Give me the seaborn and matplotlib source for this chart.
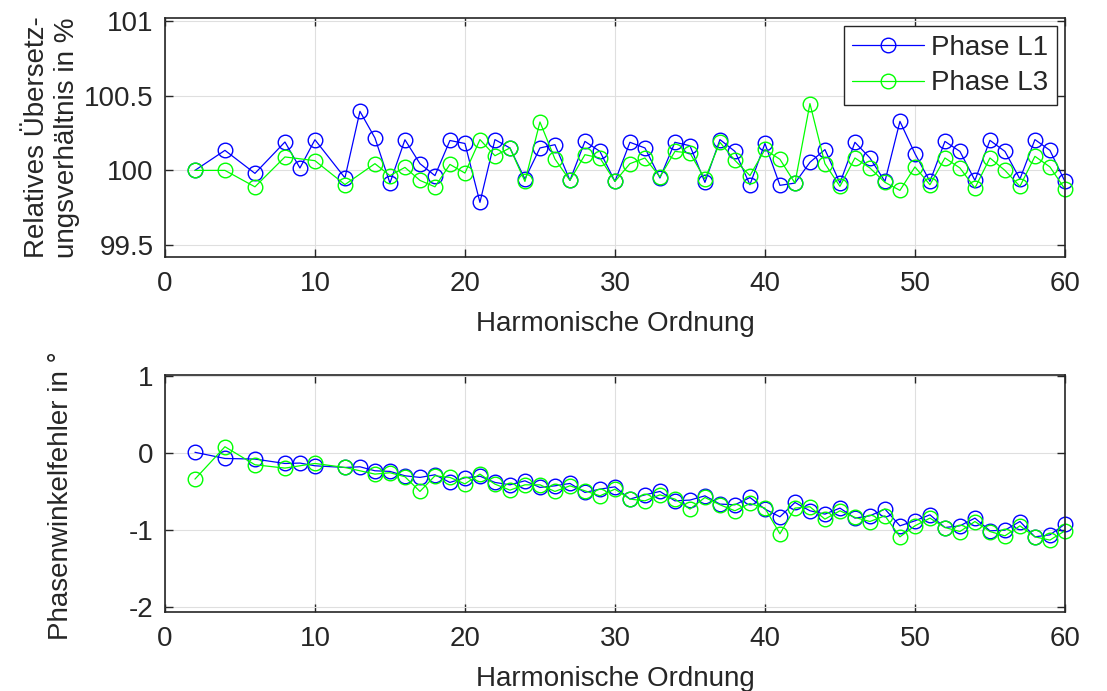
import numpy as np
import pandas as pd
import matplotlib
matplotlib.use("Agg")
import matplotlib.pyplot as plt
import matplotlib.ticker as mticker
import seaborn as sns


# harmonic orders for the two phases (L3 has no 9th and 13th)
order_l1 = [2, 4, 6, 8, 9, 10] + list(range(12, 61))
order_l3 = [2, 4, 6, 8, 10, 12] + list(range(14, 61))

ratio_l1 = [100.0, 100.134, 99.98, 100.19, 100.016, 100.205,
            99.95, 100.395, 100.217, 99.915, 100.205, 100.045, 99.965, 100.2, 100.18,
            99.786, 100.206, 100.15, 99.942, 100.15, 100.172, 99.933, 100.194, 100.127,
            99.926, 100.188, 100.15, 99.949, 100.188, 100.165, 99.92, 100.206, 100.127,
            99.904, 100.18, 99.9, 99.915, 100.054, 100.139, 99.915, 100.188, 100.083,
            99.926, 100.328, 100.112, 99.926, 100.194, 100.127, 99.933, 100.201, 100.127,
            99.942, 100.206, 100.134, 99.926]
ratio_l3 = [100.0, 100.0, 99.89, 100.09, 100.065, 99.905,
            100.045, 99.965, 100.02, 99.933, 99.89, 100.04, 99.982, 100.206, 100.098,
            100.15, 99.926, 100.324, 100.076, 99.933, 100.105, 100.083, 99.926, 100.045,
            100.083, 99.956, 100.127, 100.116, 99.942, 100.188, 100.067, 99.965, 100.14,
            100.074, 99.915, 100.447, 100.045, 99.893, 100.083, 100.016, 99.92, 99.866,
            100.023, 99.904, 100.083, 100.016, 99.882, 100.083, 100.0, 99.893, 100.094,
            100.023, 99.875]

phase_l1 = [0.01, -0.07, -0.078, -0.135, -0.13, -0.165,
            -0.187, -0.178, -0.23, -0.238, -0.295, -0.316, -0.282, -0.381, -0.32,
            -0.3, -0.381, -0.412, -0.36, -0.446, -0.425, -0.394, -0.511, -0.468,
            -0.438, -0.597, -0.542, -0.498, -0.62, -0.61, -0.555, -0.662, -0.671,
            -0.576, -0.727, -0.827, -0.641, -0.749, -0.792, -0.714, -0.844, -0.814,
            -0.727, -0.944, -0.879, -0.801, -0.966, -0.944, -0.844, -1.009, -1.0,
            -0.888, -1.087, -1.061, -0.922]
phase_l3 = [-0.338, 0.082, -0.152, -0.195, -0.135, -0.187,
            -0.273, -0.255, -0.307, -0.498, -0.295, -0.316, -0.4, -0.273, -0.403,
            -0.481, -0.412, -0.412, -0.498, -0.425, -0.49, -0.555, -0.468, -0.597,
            -0.62, -0.542, -0.597, -0.727, -0.576, -0.671, -0.749, -0.654, -0.714,
            -1.048, -0.714, -0.697, -0.857, -0.749, -0.835, -0.888, -0.814, -1.087,
            -0.944, -0.844, -0.966, -1.018, -0.888, -1.018, -1.074, -0.944, -1.087,
            -1.129, -1.009]

labels = ['Phase L1', 'Phase L3']
colors = ['#0000FF', '#00FF00']

sns.set_style('ticks')
plt.rcParams['font.family'] = ['Liberation Sans', 'DejaVu Sans']
plt.rcParams['axes.unicode_minus'] = False

dark = '#262626'
fs = 20


def style_axes(ax, ylim, yticks):
    ax.set_xlim(0, 60)
    ax.set_xticks([0, 10, 20, 30, 40, 50, 60])
    ax.set_ylim(*ylim)
    ax.set_yticks(yticks)
    ax.yaxis.set_major_formatter(mticker.FuncFormatter(lambda v, p: '%g' % v))
    ax.grid(True, color='#DFDFDF', linewidth=0.8)
    ax.set_axisbelow(True)
    ax.tick_params(direction='in', top=True, right=True, length=6, width=1,
                   labelsize=fs, colors=dark)
    ax.tick_params(axis='x', pad=10)
    ax.tick_params(axis='y', pad=8)
    for sp in ax.spines.values():
        sp.set_color(dark)
        sp.set_linewidth(1.2)
        sp.set_visible(True)
    ax.set_xlabel('Harmonische Ordnung', fontsize=fs, color=dark, labelpad=10)


def draw(ax, xs, ys):
    for x, y, label, color in zip(xs, ys, labels, colors):
        df = pd.DataFrame({'order': x, 'value': y})
        sns.lineplot(data=df, x='order', y='value', ax=ax, color=color,
                     linewidth=0.9, marker='o', markersize=10.5,
                     markerfacecolor='none', markeredgecolor=color,
                     markeredgewidth=1.0, label=label, clip_on=False)


fig = plt.figure(figsize=(11.07, 6.91), dpi=100)
ax1 = fig.add_axes([0.149, 0.628, 0.813, 0.346])
ax2 = fig.add_axes([0.149, 0.114, 0.813, 0.343])

draw(ax1, [order_l1, order_l3], [ratio_l1, ratio_l3])
style_axes(ax1, (99.42, 101.02), [99.5, 100, 100.5, 101])
ax1.set_ylabel('Relatives Übersetz-\nungsverhältnis in %', fontsize=fs, color=dark,
               linespacing=1.2)
ax1.yaxis.set_label_coords(-0.094, 0.5)
leg = ax1.legend(loc='upper right', fontsize=fs, fancybox=False, framealpha=1,
                 edgecolor=dark, handlelength=2.6, borderaxespad=0.3,
                 labelspacing=0.35, borderpad=0.3, handletextpad=0.25)
leg.get_frame().set_linewidth(1.0)

draw(ax2, [order_l1, order_l3], [phase_l1, phase_l3])
style_axes(ax2, (-2.065, 1.01), [-2, -1, 0, 1])
ax2.set_ylabel('Phasenwinkelfehler in °', fontsize=fs, color=dark)
ax2.yaxis.set_label_coords(-0.101, 0.49)
ax2.get_legend().remove()

fig.savefig('out.png', dpi=100)
